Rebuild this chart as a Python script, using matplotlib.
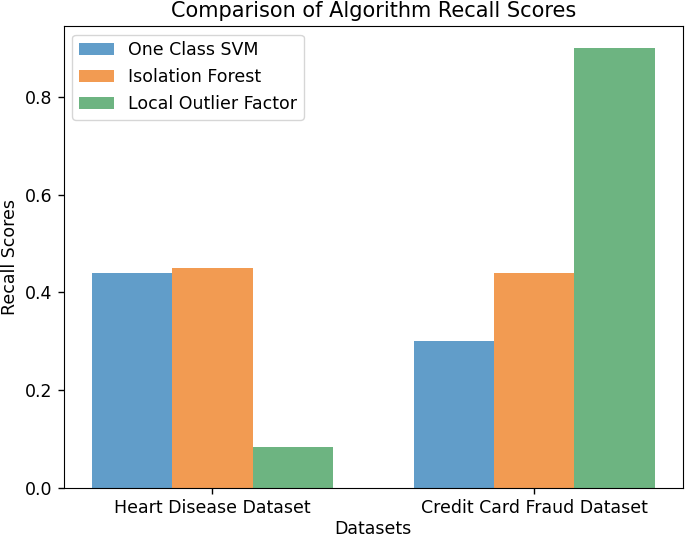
import numpy as np
import matplotlib
matplotlib.use("Agg")
import matplotlib.pyplot as plt

datasets = ["Heart Disease Dataset", "Credit Card Fraud Dataset"]
algorithms = ["One Class SVM", "Isolation Forest", "Local Outlier Factor"]
svm_recall = [0.44, 0.30]
iforest_recall = [0.45, 0.44]
lof_recall = [0.083, 0.90]

scores = [svm_recall, iforest_recall, lof_recall]
colors = ["#619dc9", "#f29b52", "#6db481"]

fig = plt.figure(figsize=(6.85, 5.38), dpi=100)
ax = fig.add_axes([0.093, 0.093, 0.904, 0.859])

x = np.arange(len(datasets))
width = 0.25
for i, (name, vals) in enumerate(zip(algorithms, scores)):
    ax.bar(x + (i - 1) * width, vals, width, label=name, color=colors[i])

ax.set_xticks(x)
ax.set_xticklabels(datasets, fontsize=12.5)
ax.tick_params(axis="y", labelsize=12.5)
ax.tick_params(length=4.5, width=1)
ax.set_xlabel("Datasets", fontsize=12.5, labelpad=2)
ax.set_ylabel("Recall Scores", fontsize=12.5)
ax.set_title("Comparison of Algorithm Recall Scores", fontsize=15)
ax.legend(loc="upper left", fontsize=12.5)

fig.savefig("out.png", dpi=100)
